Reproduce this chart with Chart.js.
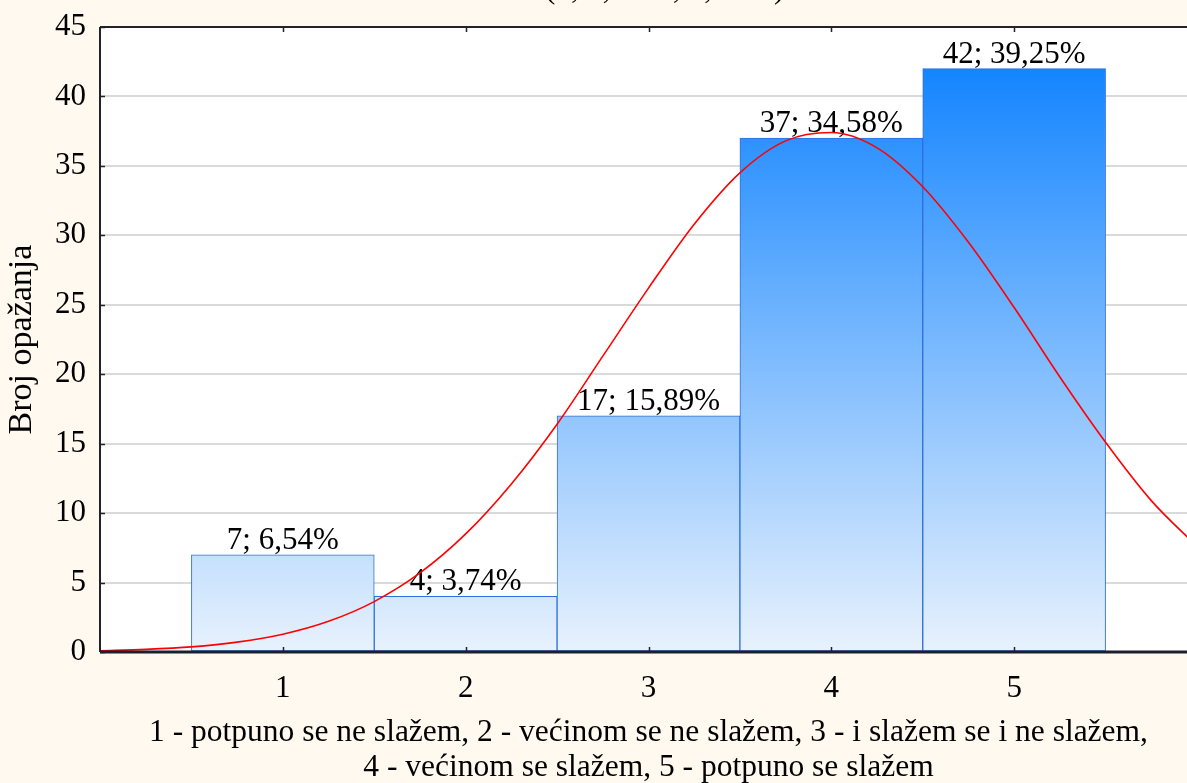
<!DOCTYPE html>
<html>
<head>
<meta charset="utf-8">
<title>Broj opažanja</title>
<script src="https://cdn.jsdelivr.net/npm/chart.js@4.4.0/dist/chart.umd.min.js"></script>
<style>
  html, body { margin: 0; padding: 0; overflow: hidden; background: #fff9ef; }
  #wrap { position: absolute; left: 0; top: 0; width: 1197px; height: 783px; }
</style>
</head>
<body>
<div id="wrap"><canvas id="c" width="1197" height="783"></canvas></div>
<script>
// Answer categories and observed counts
const categories = [1, 2, 3, 4, 5];
const counts = [7, 4, 17, 37, 42];

// Fitted normal curve (expected counts)
const curveX = [0, 0.25, 0.5, 0.75, 1, 1.25, 1.5, 1.75, 2, 2.25, 2.5, 2.75, 3,
                3.25, 3.5, 3.75, 4, 4.25, 4.5, 4.75, 5, 5.25, 5.5, 5.75, 6];
const curveY = [0.09, 0.19, 0.37, 0.71, 1.28, 2.21, 3.63, 5.69, 8.5, 12.1, 16.4, 21.3, 26.2,
                30.8, 34.5, 36.8, 37.4, 36.3, 33.5, 29.5, 24.8, 19.8, 15.1, 10.9, 7.6];

// Axis ticks
const xTicks = [1, 2, 3, 4, 5];
const yTicks = [0, 5, 10, 15, 20, 25, 30, 35, 40, 45];

const titleText = '107*1*normal(x; 3,9626; 1,1404)';
const captionLines = [
  '1 - potpuno se ne slažem, 2 - većinom se ne slažem, 3 - i slažem se i ne slažem,',
  '4 - većinom se slažem, 5 - potpuno se slažem'
];

const FONT = '"Liberation Serif", "Times New Roman", serif';
const total = counts.reduce((a, b) => a + b, 0);
const pctLabel = v => (v / total * 100).toFixed(2).replace('.', ',') + '%';

// Vertical blue gradient shared by all bars
function barGradient(context) {
  const chart = context.chart;
  const area = chart.chartArea;
  if (!area) return '#6aaefc';
  const ys = chart.scales.y;
  const top = ys.getPixelForValue(Math.max(...counts));
  const bottom = ys.getPixelForValue(0);
  const g = chart.ctx.createLinearGradient(0, top, 0, bottom);
  g.addColorStop(0, '#1485ff');
  g.addColorStop(1, '#e8f2fd');
  return g;
}

// Cream page, white plot area
const backgroundPlugin = {
  id: 'background',
  beforeDraw(chart) {
    const { ctx, chartArea: a, width, height } = chart;
    ctx.save();
    ctx.fillStyle = '#fff9ef';
    ctx.fillRect(0, 0, width, height);
    ctx.fillStyle = '#ffffff';
    ctx.fillRect(a.left, a.top, a.right - a.left, a.bottom - a.top);
    ctx.restore();
  }
};

// Count and percentage above each bar (drawn before the curve)
const barLabelPlugin = {
  id: 'barLabels',
  afterDatasetDraw(chart, args) {
    if (args.index !== 0) return;
    const { ctx } = chart;
    ctx.save();
    ctx.font = '31px ' + FONT;
    ctx.fillStyle = '#000';
    ctx.textAlign = 'center';
    ctx.textBaseline = 'alphabetic';
    args.meta.data.forEach((el, i) => {
      ctx.fillText(counts[i] + '; ' + pctLabel(counts[i]), el.x, el.y - 6);
    });
    ctx.restore();
  }
};

// Plot frame with inward tick marks, title and two-line caption
const framePlugin = {
  id: 'frame',
  afterDraw(chart) {
    const { ctx, chartArea: a, scales } = chart;
    const xs = scales.x, ys = scales.y;
    ctx.save();
    ctx.strokeStyle = '#222228';
    ctx.lineWidth = 2;
    ctx.beginPath();
    ctx.moveTo(a.left, a.top); ctx.lineTo(a.right, a.top);
    ctx.moveTo(a.left, a.top); ctx.lineTo(a.left, a.bottom);
    ctx.stroke();
    ctx.lineWidth = 3;
    ctx.strokeStyle = '#1c1f2c';
    ctx.beginPath();
    ctx.moveTo(a.left, a.bottom); ctx.lineTo(a.right, a.bottom);
    ctx.stroke();

    ctx.lineWidth = 1.5;
    ctx.strokeStyle = '#222';
    ctx.beginPath();
    xTicks.forEach(v => {
      const px = Math.round(xs.getPixelForValue(v)) + 0.5;
      ctx.moveTo(px, a.bottom); ctx.lineTo(px, a.bottom - 5);
      ctx.moveTo(px, a.top); ctx.lineTo(px, a.top + 5);
    });
    yTicks.forEach(v => {
      const py = Math.round(ys.getPixelForValue(v)) + 0.5;
      ctx.moveTo(a.left, py); ctx.lineTo(a.left + 5, py);
    });
    ctx.stroke();

    ctx.fillStyle = '#000';
    ctx.font = '31px ' + FONT;
    ctx.textBaseline = 'alphabetic';
    ctx.textAlign = 'left';
    const prefix = titleText.slice(0, titleText.indexOf('('));
    ctx.fillText(titleText, 545 - ctx.measureText(prefix).width, -2);

    ctx.font = '31.5px ' + FONT;
    ctx.textAlign = 'center';
    ctx.textBaseline = 'middle';
    const cx = (a.left + a.right) / 2;
    ctx.fillText(captionLines[0], cx, 733);
    ctx.fillText(captionLines[1], cx, 768);
    ctx.restore();
  }
};

new Chart(document.getElementById('c'), {
  data: {
    datasets: [
      {
        type: 'bar',
        data: categories.map((c, i) => ({ x: c, y: counts[i] })),
        backgroundColor: barGradient,
        borderColor: '#2f6fdc',
        borderWidth: 1,
        borderSkipped: false,
        barPercentage: 1,
        categoryPercentage: 1,
        order: 1
      },
      {
        type: 'line',
        data: curveX.map((x, i) => ({ x: x, y: curveY[i] })),
        borderColor: '#ff0000',
        borderWidth: 1.6,
        pointRadius: 0,
        fill: false,
        cubicInterpolationMode: 'monotone',
        order: 0
      }
    ]
  },
  options: {
    responsive: false,
    animation: false,
    events: [],
    layout: { padding: { top: 27, left: 0, right: 0, bottom: 0 } },
    plugins: { legend: { display: false }, tooltip: { enabled: false } },
    scales: {
      x: {
        type: 'linear',
        min: 0,
        max: 6,
        offset: false,
        grid: { display: false, offset: false },
        border: { display: false },
        afterBuildTicks: s => { s.ticks = xTicks.map(v => ({ value: v })); },
        afterFit: s => { s.height = 131; },
        ticks: {
          font: { family: FONT, size: 31 },
          color: '#000',
          padding: 10,
          maxRotation: 0,
          autoSkip: false,
          callback: v => String(v)
        }
      },
      y: {
        min: 0,
        max: 45,
        afterBuildTicks: s => { s.ticks = yTicks.map(v => ({ value: v })); },
        afterFit: s => { s.width = 100; },
        grid: { color: '#dadada', lineWidth: 2, drawTicks: true, tickLength: 14, tickColor: 'rgba(0,0,0,0)' },
        border: { display: false },
        ticks: {
          font: { family: FONT, size: 31 },
          color: '#000',
          padding: 0,
          callback: v => String(v)
        },
        title: {
          display: true,
          text: 'Broj opažanja',
          font: { family: FONT, size: 34 },
          color: '#000',
          padding: { top: 2, bottom: 0 }
        }
      }
    }
  },
  plugins: [backgroundPlugin, barLabelPlugin, framePlugin]
});
</script>
</body>
</html>
